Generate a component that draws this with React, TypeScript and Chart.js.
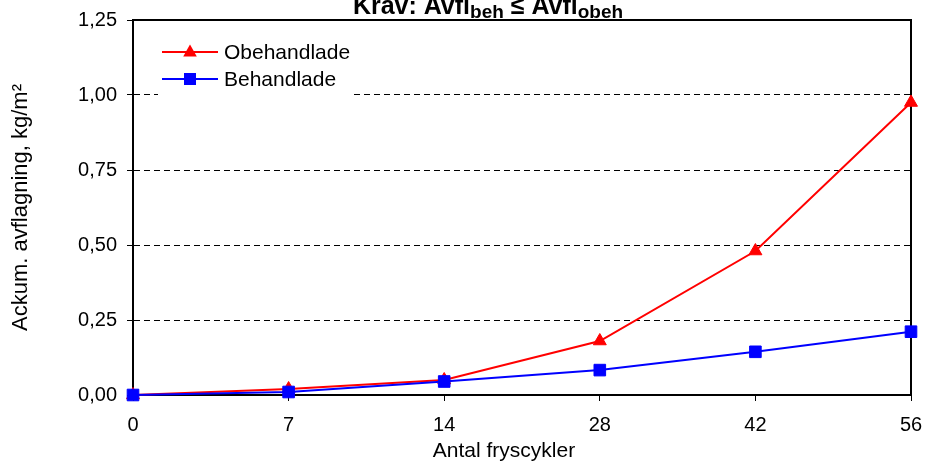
import React, { useEffect, useRef } from "react";
import { Chart, registerables } from "chart.js";

Chart.register(...registerables);

const categories = ["0", "7", "14", "28", "42", "56"];
const obehandlade = [0.0, 0.02, 0.05, 0.18, 0.48, 0.975];
const behandlade = [0.0, 0.01, 0.045, 0.083, 0.144, 0.211];
const yTickValues = [0, 0.25, 0.5, 0.75, 1.0, 1.25];
const seriesNames = ["Obehandlade", "Behandlade"];
const xTitle = "Antal fryscykler";
const yTitle = "Ackum. avflagning, kg/m²";

const FONT = "'Liberation Sans', Arial, sans-serif";
const RED = "#FF0000";
const BLUE = "#0000FF";

const fmt = (v: number) => v.toFixed(2).replace(".", ",");

const decorPlugin = {
  id: "decor",
  beforeDatasetsDraw(chart: any) {
    const { ctx, chartArea } = chart;
    ctx.save();
    ctx.strokeStyle = "#000";
    ctx.lineWidth = 2;
    ctx.beginPath();
    ctx.moveTo(chartArea.left - 1, chartArea.top);
    ctx.lineTo(chartArea.right, chartArea.top);
    ctx.lineTo(chartArea.right, chartArea.bottom);
    ctx.stroke();
    ctx.restore();
  },
  afterDraw(chart: any) {
    const { ctx } = chart;
    ctx.save();
    // Title with subscripts
    const parts = [
      { t: "Krav: Avfl", s: 25, dy: 0 },
      { t: "beh", s: 19, dy: 3.5 },
      { t: " \u2264 Avfl", s: 25, dy: 0 },
      { t: "obeh", s: 19, dy: 3.5 },
    ];
    let total = 0;
    for (const p of parts) {
      ctx.font = `bold ${p.s}px ${FONT}`;
      total += ctx.measureText(p.t).width;
    }
    let x = 488 - total / 2;
    ctx.fillStyle = "#000";
    ctx.textBaseline = "alphabetic";
    ctx.textAlign = "left";
    for (const p of parts) {
      ctx.font = `bold ${p.s}px ${FONT}`;
      ctx.fillText(p.t, x, 14 + p.dy);
      x += ctx.measureText(p.t).width;
    }

    // X axis title
    ctx.font = `21px ${FONT}`;
    ctx.textAlign = "center";
    ctx.textBaseline = "alphabetic";
    ctx.fillText(xTitle, 504, 457);

    // Legend
    ctx.fillStyle = "#fff";
    ctx.fillRect(158, 34, 194, 64);
    const items = [
      { name: seriesNames[0], color: RED, shape: "tri", y: 52 },
      { name: seriesNames[1], color: BLUE, shape: "rect", y: 79 },
    ];
    for (const it of items) {
      ctx.strokeStyle = it.color;
      ctx.lineWidth = 2;
      ctx.beginPath();
      ctx.moveTo(162, it.y);
      ctx.lineTo(218, it.y);
      ctx.stroke();
      ctx.fillStyle = it.color;
      ctx.beginPath();
      if (it.shape === "tri") {
        ctx.moveTo(190, it.y - 7.5);
        ctx.lineTo(190 + 6.8, it.y + 4.5);
        ctx.lineTo(190 - 6.8, it.y + 4.5);
        ctx.closePath();
      } else {
        ctx.rect(184, it.y - 6, 12, 12);
      }
      ctx.fill();
      ctx.fillStyle = "#000";
      ctx.font = `21px ${FONT}`;
      ctx.textAlign = "left";
      ctx.textBaseline = "middle";
      ctx.fillText(it.name, 224, it.y + 1);
    }
    ctx.restore();
  },
};

export default function App() {
  const ref = useRef<HTMLCanvasElement | null>(null);
  useEffect(() => {
    if (!ref.current) return;
    const chart = new Chart(ref.current, {
      type: "line",
      data: {
        labels: categories,
        datasets: [
          {
            label: seriesNames[0],
            data: obehandlade,
            borderColor: RED,
            backgroundColor: RED,
            borderWidth: 2,
            pointStyle: "triangle",
            pointRadius: 7.5,
            pointBorderWidth: 1,
            pointBackgroundColor: RED,
            pointBorderColor: RED,
            tension: 0,
            clip: false as any,
            order: 2,
          },
          {
            label: seriesNames[1],
            data: behandlade,
            borderColor: BLUE,
            backgroundColor: BLUE,
            borderWidth: 2,
            pointStyle: "rect",
            pointRadius: 8.2,
            pointBorderWidth: 1,
            pointBackgroundColor: BLUE,
            pointBorderColor: BLUE,
            tension: 0,
            clip: false as any,
            order: 1,
          },
        ],
      },
      options: {
        responsive: false,
        animation: false,
        layout: { padding: { top: 20, right: 14, left: 0, bottom: 0 } },
        plugins: {
          legend: { display: false },
          tooltip: { enabled: false },
          title: { display: false },
        },
        scales: {
          x: {
            type: "category",
            offset: false,
            grid: {
              drawOnChartArea: false,
              drawTicks: true,
              tickLength: 6,
              tickColor: "#000",
              tickWidth: 1,
            },
            border: { display: true, color: "#000", width: 2 },
            ticks: {
              color: "#000",
              font: { family: FONT, size: 20 },
              padding: 12,
              maxRotation: 0,
              autoSkip: false,
            },
            afterFit: (s: any) => {
              s.height = 68;
              s.paddingRight = 0;
              s.paddingLeft = 0;
            },
          },
          y: {
            min: 0,
            max: 1.25,
            afterBuildTicks: (s: any) => {
              s.ticks = yTickValues.map((v) => ({ value: v }));
            },
            grid: {
              color: (c: any) =>
                c.tick && (c.tick.value === 0 || c.tick.value === 1.25)
                  ? "rgba(0,0,0,0)"
                  : "#000",
              lineWidth: 1,
              drawTicks: true,
              tickLength: 6,
              tickColor: "#000",
              tickWidth: 1,
              tickBorderDash: [],
            },
            border: { display: true, color: "#000", width: 2, dash: [6, 4] },
            ticks: {
              color: "#000",
              font: { family: FONT, size: 20 },
              padding: 10,
              callback: (v: any) => fmt(Number(v)),
            },
            title: {
              display: true,
              text: yTitle,
              color: "#000",
              font: { family: FONT, size: 22 },
              padding: { top: 8, bottom: 0 },
            },
            afterFit: (s: any) => {
              s.width = 133;
              s.paddingTop = 0;
              s.paddingBottom = 0;
            },
          },
        },
      },
      plugins: [decorPlugin],
    });
    return () => chart.destroy();
  }, []);
  return (
    <div style={{ position: "absolute", left: 0, top: 0, width: 925, height: 463, background: "#fff" }}>
      <canvas ref={ref} width={925} height={463} style={{ display: "block" }} />
    </div>
  );
}
